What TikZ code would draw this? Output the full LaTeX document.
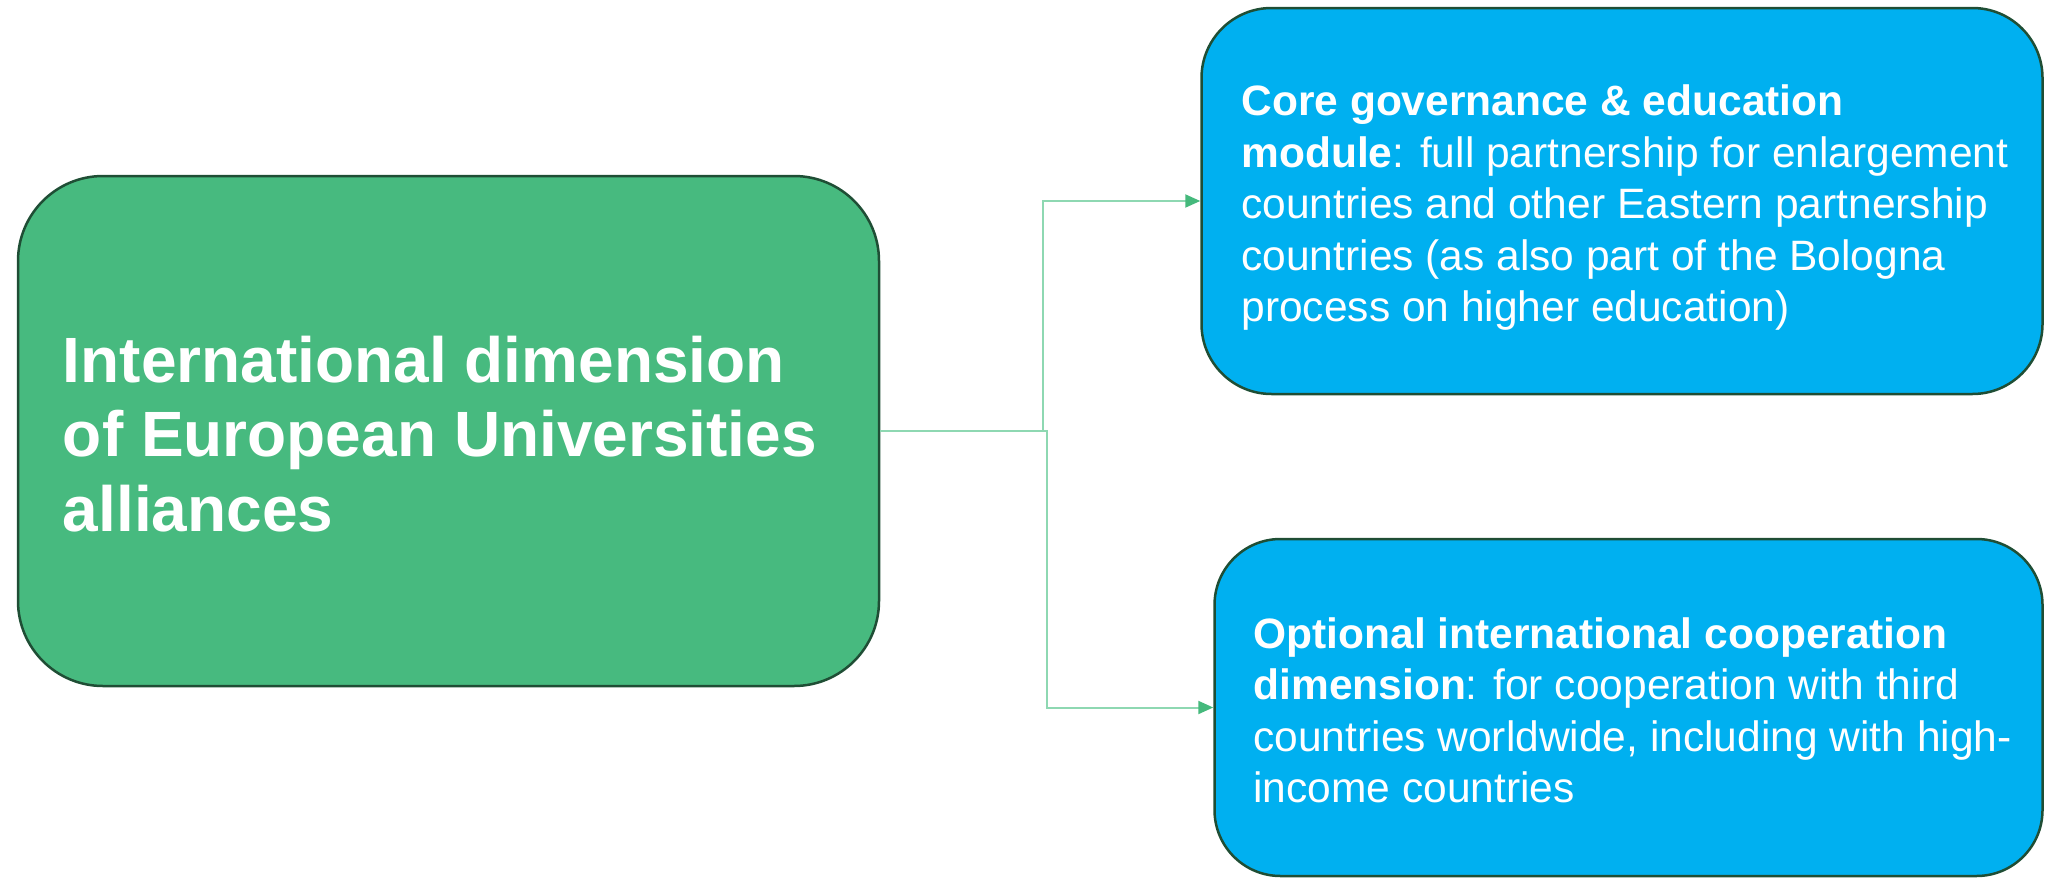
\documentclass[tikz,border=0pt]{standalone}
\usepackage{fontspec}
\setmainfont{Liberation Sans}
\usetikzlibrary{arrows.meta}
\definecolor{boxgreen}{HTML}{47BA7F}
\definecolor{boxblue}{HTML}{00B0F0}
\definecolor{edgegreen}{HTML}{1F4E35}
\definecolor{linegreen}{HTML}{8ED8B2}
\definecolor{tipgreen}{HTML}{45B97C}
\tikzset{
  box/.style={draw=edgegreen, line width=2.5pt, inner sep=0pt, rectangle},
  bigtext/.style={text=white, align=left, inner sep=0pt, font=\fontsize{64}{74.5}\selectfont\bfseries},
  smalltext/.style={text=white, align=left, inner sep=0pt, font=\fontsize{42.5}{51.5}\selectfont},
  conn/.style={draw=linegreen, line width=2pt, -{Triangle[length=15pt,width=13pt,color=tipgreen,fill=tipgreen]}}
}
\begin{document}
\begin{tikzpicture}[x=1pt,y=-1pt]
\useasboundingbox (0,0) rectangle (2045,878);
\node[box, fill=boxgreen, rounded corners=85pt, minimum width=861pt, minimum height=510pt] (L) at (448.5,431) {};
\node[box, fill=boxblue, rounded corners=70pt, minimum width=841pt, minimum height=386pt] (T) at (1622,201) {};
\node[box, fill=boxblue, rounded corners=66pt, minimum width=828pt, minimum height=337pt] (B) at (1628.5,707.5) {};
\node[bigtext, anchor=west] (Lt) at ([xshift=46pt,yshift=-3pt]L.west) {International dimension\\of European Universities\\alliances};
\node[smalltext, anchor=west] (Tt) at ([xshift=41pt,yshift=-7pt]T.west) {\textbf{Core governance \& education}\\\textbf{module}: full partnership for enlargement\\countries and other Eastern partnership\\countries (as also part of the Bologna\\process on higher education)};
\node[smalltext, anchor=west] (Bt) at ([xshift=40pt,yshift=-3pt]B.west) {\textbf{Optional international cooperation}\\\textbf{dimension}: for cooperation with third\\countries worldwide, including with high-\\income countries};
\coordinate (j1) at (1043,0);
\coordinate (j2) at (1047,0);
\draw[conn] (L.east) -- (L.east -| j1) |- (T.west);
\draw[conn] (L.east) -- (L.east -| j2) |- (B.west);
\end{tikzpicture}
\end{document}
